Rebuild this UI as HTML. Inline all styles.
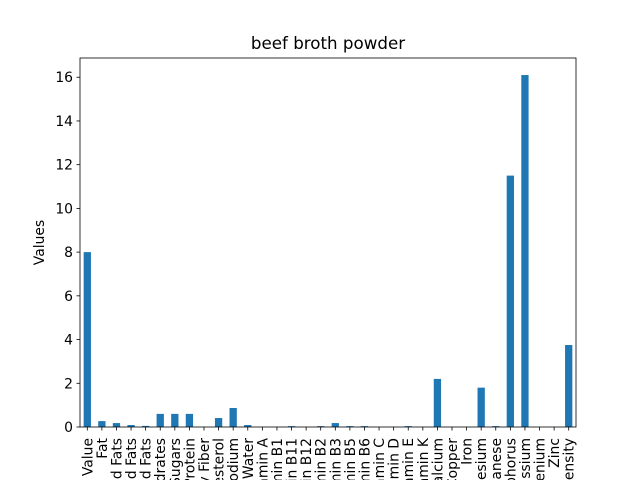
<!DOCTYPE html>
<html><head><meta charset="utf-8"><style>html,body{margin:0;padding:0;background:#fff;overflow:hidden}svg{display:block;overflow:hidden;font-family:"DejaVu Sans","Liberation Sans",sans-serif}</style></head>
<body>
<svg id="chart" width="640" height="480" xmlns="http://www.w3.org/2000/svg"><defs><clipPath id="clip"><rect x="0" y="0" width="640" height="480"/></clipPath></defs><g id="labels" clip-path="url(#clip)"></g></svg>
<script>
const categories = ["Caloric Value","Fat","Saturated Fats","Monounsaturated Fats","Polyunsaturated Fats","Carbohydrates","Sugars","Protein","Dietary Fiber","Cholesterol","Sodium","Water","Vitamin A","Vitamin B1","Vitamin B11","Vitamin B12","Vitamin B2","Vitamin B3","Vitamin B5","Vitamin B6","Vitamin C","Vitamin D","Vitamin E","Vitamin K","Calcium","Copper","Iron","Magnesium","Manganese","Phosphorus","Potassium","Selenium","Zinc","Nutrition Density"];
const values = [8.0,0.27,0.18,0.09,0.05,0.6,0.6,0.6,0,0.41,0.87,0.09,0,0,0.04,0,0.04,0.18,0.04,0.04,0,0,0.04,0,2.2,0,0,1.8,0.04,11.5,16.1,0,0,3.75];
const yTicks = [0,2,4,6,8,10,12,14,16];
const NS="http://www.w3.org/2000/svg";
const svg=document.getElementById('chart');
const lg=document.getElementById('labels');
const L=80,R=576,T=58,B=427,ymax=16.88;
const step=(R-L)/categories.length;
const xs=i=>L+step*(i+0.5);
const ys=v=>B-(v/ymax)*(B-T);
function mk(tag,attrs,txt,parent){const e=document.createElementNS(NS,tag);for(const k in attrs)e.setAttribute(k,attrs[k]);if(txt!==undefined)e.textContent=txt;(parent||svg).appendChild(e);return e;}
values.forEach((v,i)=>{
  const r=mk('rect',{x:xs(i)-step*0.25,y:ys(v),width:step*0.5,height:B-ys(v),fill:'#1f77b4'});
  
  
});
const frame=mk('rect',{x:L,y:T,width:R-L,height:B-T,fill:'none',stroke:'#000','stroke-width':0.8});


yTicks.forEach(t=>{
  const y=ys(t);
  mk('line',{x1:L-3.5,x2:L,y1:y,y2:y,stroke:'#000','stroke-width':0.8});
  const tx=mk('text',{x:L-7,y:y+5,'text-anchor':'end','font-size':'13.9'},String(t));
  
  
});
categories.forEach((c,i)=>{
  const x=xs(i);
  mk('line',{x1:x,x2:x,y1:B,y2:B+3.5,stroke:'#000','stroke-width':0.8});
  const tx=mk('text',{x:0,y:0,'text-anchor':'end','font-size':'13.9',transform:`translate(${x+5},${B+11}) rotate(-90)`},c,lg);
  
  
});
const yl=mk('text',{x:0,y:0,'text-anchor':'middle','font-size':'13.9',transform:`translate(44,${(T+B)/2}) rotate(-90)`},'Values');


const ti=mk('text',{x:(L+R)/2,y:49,'text-anchor':'middle','font-size':'16.7'},'beef broth powder');


</script>
</body></html>
